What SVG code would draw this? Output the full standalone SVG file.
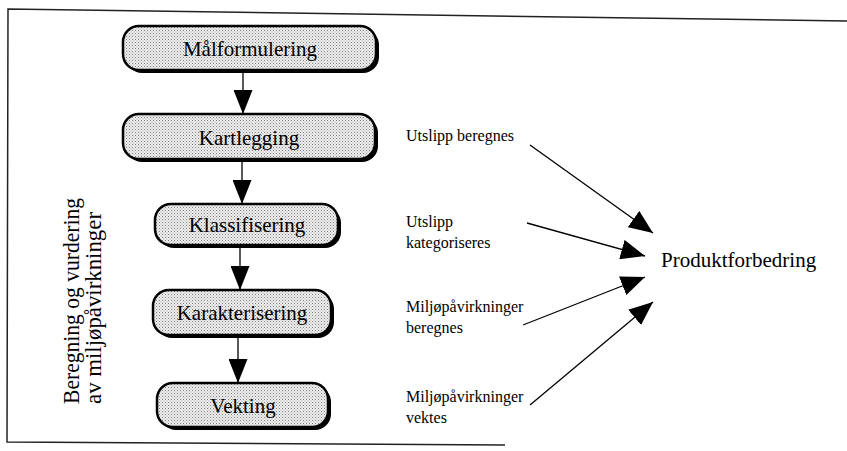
<svg xmlns="http://www.w3.org/2000/svg" width="847" height="451" viewBox="0 0 847 451">
  <style>
    .frame { fill: none; stroke: #222; stroke-width: 1.5; }
    .shadow { fill: #000; }
    .box { fill: url(#dots); stroke: #000; stroke-width: 2.5; }
    .boxlabel { font-family: "Liberation Serif", "Times New Roman", serif; font-size: 21px; fill: #000; text-anchor: middle; }
    .label { font-family: "Liberation Serif", "Times New Roman", serif; font-size: 16px; fill: #000; }
    .big { font-family: "Liberation Serif", "Times New Roman", serif; font-size: 21px; fill: #000; }
    .side { font-family: "Liberation Serif", "Times New Roman", serif; font-size: 23px; fill: #000; }
    .conn { stroke: #000; stroke-width: 1.3; fill: none; }
    .vconn { marker-end: url(#headV); }
    .dconn { marker-end: url(#headD); }
  </style>
  <defs>
    <pattern id="dots" width="3" height="3" patternUnits="userSpaceOnUse">
      <rect width="3" height="3" fill="#f0f0f0"/>
      <rect x="0" y="0" width="1" height="1" fill="#7a7a7a"/>
      <rect x="1.5" y="1.5" width="1" height="1" fill="#9a9a9a"/>
    </pattern>
    <marker id="headV" markerUnits="userSpaceOnUse" markerWidth="24" markerHeight="19" refX="24" refY="9.5" orient="auto">
      <path d="M0,0 L24,9.5 L0,19 Z" fill="#000"/>
    </marker>
    <marker id="headD" markerUnits="userSpaceOnUse" markerWidth="24" markerHeight="20" refX="24" refY="10" orient="auto">
      <path d="M0,0 L24,10 L0,20 Z" fill="#000"/>
    </marker>
  </defs>

  <!-- frame (open on the right) -->
  <g id="frame">
    <polyline class="frame" points="847,21 8,9 7,442 505,445"/>
  </g>

  <g id="side-label">
    <text class="side" transform="translate(79,404) rotate(-90)" textLength="206" lengthAdjust="spacingAndGlyphs">Beregning og vurdering</text>
    <text class="side" transform="translate(101,404) rotate(-90)" textLength="192" lengthAdjust="spacingAndGlyphs">av miljøpåvirkninger</text>
  </g>

  <g id="connectors">
    <line class="conn vconn" x1="243" y1="71" x2="243" y2="114"/>
    <line class="conn vconn" x1="242" y1="162" x2="242" y2="204"/>
    <line class="conn vconn" x1="240" y1="248" x2="240" y2="290"/>
    <line class="conn vconn" x1="238" y1="338" x2="238" y2="383"/>
    <line class="conn dconn" x1="530" y1="145" x2="653" y2="233"/>
    <line class="conn dconn" x1="527" y1="223" x2="645" y2="256"/>
    <line class="conn dconn" x1="523" y1="325" x2="645" y2="277"/>
    <line class="conn dconn" x1="530" y1="405" x2="653" y2="302"/>
  </g>

  <g id="malformulering">
    <rect class="shadow" x="126" y="29" width="253" height="44" rx="16"/>
    <rect class="box" x="123" y="26" width="253" height="44" rx="16"/>
    <text class="boxlabel" x="250" y="56">Målformulering</text>
  </g>
  <g id="kartlegging">
    <rect class="shadow" x="126" y="117" width="252" height="45" rx="16"/>
    <rect class="box" x="123" y="114" width="252" height="45" rx="16"/>
    <text class="boxlabel" x="249" y="145">Kartlegging</text>
  </g>
  <g id="klassifisering">
    <rect class="shadow" x="158" y="207" width="183" height="41" rx="16"/>
    <rect class="box" x="155" y="204" width="183" height="41" rx="16"/>
    <text class="boxlabel" x="247" y="232">Klassifisering</text>
  </g>
  <g id="karakterisering">
    <rect class="shadow" x="156" y="293" width="178" height="45" rx="16"/>
    <rect class="box" x="153" y="290" width="178" height="45" rx="16"/>
    <text class="boxlabel" x="242" y="320">Karakterisering</text>
  </g>
  <g id="vekting">
    <rect class="shadow" x="160" y="386" width="171" height="44" rx="16"/>
    <rect class="box" x="157" y="383" width="171" height="44" rx="16"/>
    <text class="boxlabel" x="243" y="413">Vekting</text>
  </g>

  <g id="utslipp-beregnes">
    <text class="label" x="406" y="141">Utslipp beregnes</text>
  </g>
  <g id="utslipp-kategoriseres">
    <text class="label" x="406" y="227">Utslipp</text>
    <text class="label" x="406" y="248">kategoriseres</text>
  </g>
  <g id="miljo-beregnes">
    <text class="label" x="406" y="312">Miljøpåvirkninger</text>
    <text class="label" x="406" y="333">beregnes</text>
  </g>
  <g id="miljo-vektes">
    <text class="label" x="406" y="402">Miljøpåvirkninger</text>
    <text class="label" x="406" y="423">vektes</text>
  </g>
  <g id="produktforbedring">
    <text class="big" x="661" y="267">Produktforbedring</text>
  </g>
</svg>
